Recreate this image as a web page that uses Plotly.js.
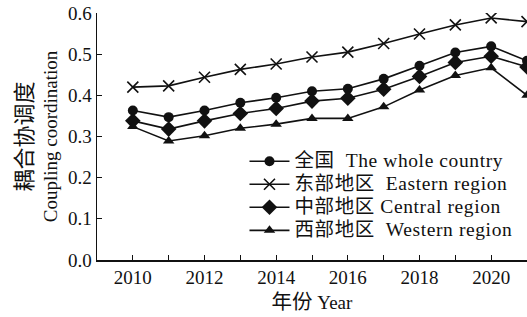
<!DOCTYPE html>
<html>
<head>
<meta charset="utf-8">
<script src="https://cdn.plot.ly/plotly-3.0.1.min.js"></script>
<style>
html,body{margin:0;padding:0;background:#fff;}
#chart{width:527px;height:317px;}
.legendtext{font-size:19.5px !important; letter-spacing:0.6px;}
</style>
</head>
<body>
<div id="chart"></div>
<script>
const years = [2010, 2011, 2012, 2013, 2014, 2015, 2016, 2017, 2018, 2019, 2020, 2021];
const wholeCountry = [0.363, 0.347, 0.363, 0.382, 0.394, 0.410, 0.416, 0.440, 0.472, 0.504, 0.519, 0.484];
const eastern      = [0.420, 0.423, 0.444, 0.463, 0.476, 0.493, 0.505, 0.526, 0.549, 0.571, 0.588, 0.579];
const central      = [0.338, 0.318, 0.338, 0.356, 0.368, 0.386, 0.393, 0.415, 0.446, 0.480, 0.495, 0.469];
const western      = [0.324, 0.289, 0.302, 0.320, 0.330, 0.344, 0.344, 0.372, 0.413, 0.448, 0.467, 0.400];
const seriesNames = [
  "全国\u00a0\u00a0The whole country",
  "东部地区\u00a0\u00a0Eastern region",
  "中部地区\u00a0Central region",
  "西部地区\u00a0\u00a0Western region"
];
const xTitle = '<span style="font-size:20.5px">年份</span> Year';
const yTitle = '<span style="font-size:22px">耦合协调度</span><br>Coupling coordination';

const FONT = "'Liberation Serif', 'Noto Sans CJK SC', serif";
const symbols = ["circle", "x-thin-open", "diamond", "triangle-up"];
const sizes = [10, 11, 12, 10];
const data = [wholeCountry, eastern, central, western].map((ys, i) => ({
  x: years, y: ys, name: seriesNames[i], type: "scatter", mode: "lines+markers",
  line: {color: "#111", width: 1.6},
  marker: {symbol: symbols[i], size: sizes[i], color: "#111",
           line: {color: "#111", width: i === 1 ? 1.6 : 0}}
}));

const layout = {
  width: 527, height: 317,
  margin: {l: 97, r: 0, t: 13, b: 57},
  paper_bgcolor: "#fff", plot_bgcolor: "#fff",
  font: {family: FONT, size: 19, color: "#111"},
  showlegend: true,
  legend: {x: 0.343, xanchor: "left", y: 0.258, yanchor: "middle", bgcolor: "rgba(0,0,0,0)",
           font: {family: FONT, size: 15.4, color: "#111"}, tracegroupgap: 0, itemwidth: 40},
  xaxis: {
    range: [2009, 2021], tick0: 2010, dtick: 2, ticks: "inside", ticklen: 5, tickcolor: "#111",
    showgrid: false, zeroline: false, showline: true, linecolor: "#111", linewidth: 1.5,
    minor: {dtick: 1, tick0: 2010, ticks: "inside", ticklen: 5, tickcolor: "#111", showgrid: false},
    tickfont: {family: FONT, size: 19},
    title: {text: xTitle, font: {family: FONT, size: 19}, standoff: 8}
  },
  yaxis: {
    range: [0, 0.6], dtick: 0.1, tickformat: ".1f", ticks: "inside", ticklen: 5, tickcolor: "#111",
    showgrid: false, zeroline: false, showline: true, linecolor: "#111", linewidth: 1.5,
    tickfont: {family: FONT, size: 19},
    title: {text: yTitle, font: {family: FONT, size: 19}, standoff: 5}
  }
};
Plotly.newPlot("chart", data, layout, {displayModeBar: false, staticPlot: true});
</script>
</body>
</html>
